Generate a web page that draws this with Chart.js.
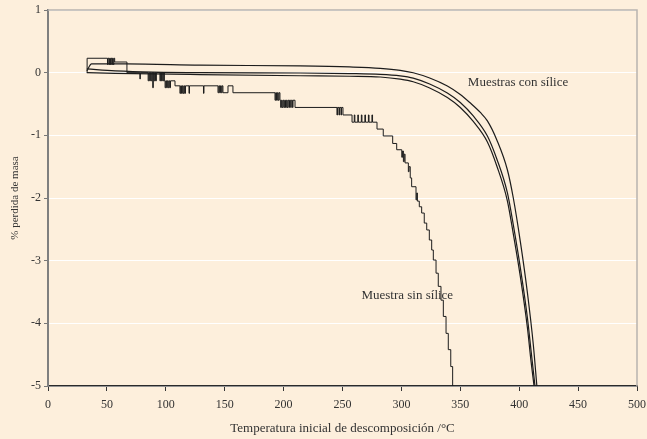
<!DOCTYPE html>
<html>
<head>
<meta charset="utf-8">
<script src="https://cdn.jsdelivr.net/npm/chart.js@4"></script>
<style>
  html, body { margin: 0; padding: 0; background: #fdefdc; }
  #wrap { width: 647px; height: 439px; }
</style>
</head>
<body>
<div id="wrap"><canvas id="tgaChart" width="647" height="439"></canvas></div>
<script>
const BG = '#fdefdc';
const TEXT = '#333333';
const FONT = '"Liberation Serif", "DejaVu Serif", serif';

// x ticks / y ticks
const tempTicks = [0, 50, 100, 150, 200, 250, 300, 350, 400, 450, 500];
const masaTicks = [1, 0, -1, -2, -3, -4, -5];

// Muestra sin sílice (stepped trace)
const sinSiliceTemp = [
  33, 33.2, 50.5, 51, 51.8, 52.3, 53, 53.5, 54.2, 54.7, 55.4, 56, 56.6, 67,
  78, 78.4, 85, 85.6, 86.3, 86.9, 87.6, 88.2, 88.9, 89.4, 90, 90.6, 91.3, 92,
  95, 95.6, 96.3, 96.9, 97.5, 98.2, 98.8, 99.4, 100, 100.7, 101.3, 102, 102.6, 103.3, 104,
  107.8, 112, 112.6, 113.3, 114, 114.6, 115.3, 116, 116.7, 119.7, 120.1, 132, 132.4,
  144.3, 145, 145.7, 146.4, 147.1, 147.8, 148.5, 152.8, 157,
  192.7, 193.3, 194, 194.7, 195.4, 196.1, 196.9,
  197.5, 198.1, 198.8, 199.5, 200.2, 200.9, 201.6, 202.3, 203, 203.7,
  204.5, 205, 206, 206.5, 207.5, 208, 209.7,
  245.3, 245.8, 247, 247.5, 248.7, 249.2, 250.4, 258.1,
  260, 260.5, 263, 263.5, 266, 266.5, 269, 269.5, 272, 272.5, 275, 275.5,
  279.3, 284.6, 292.6, 296, 300.3, 301, 301.7, 302.4, 303.1, 305.9, 306.5, 307.5,
  308.7, 312.4, 313, 313.6, 315.2, 317.2, 319.4, 321.5, 323.7, 325.7, 327.1,
  329.4, 331.3, 333.6, 335.6, 337.9, 339.8, 341.9, 343.5, 344
];
const sinSiliceMasa = [
  0, 0.23, 0.13, 0.23, 0.13, 0.23, 0.13, 0.23, 0.13, 0.23, 0.13, 0.23, 0.17, 0,
  -0.1, 0, -0.13, 0, -0.13, 0, -0.13, 0, -0.24, 0, -0.13, 0, -0.13, 0,
  -0.13, 0, -0.13, 0, -0.13, 0, -0.13, -0.24, -0.13, -0.24, -0.13, -0.24, -0.13, -0.24, -0.13,
  -0.21, -0.33, -0.21, -0.33, -0.21, -0.33, -0.21, -0.33, -0.21, -0.33, -0.21, -0.33, -0.21,
  -0.32, -0.21, -0.32, -0.21, -0.32, -0.21, -0.32, -0.21, -0.32,
  -0.44, -0.32, -0.44, -0.32, -0.44, -0.32, -0.44,
  -0.555, -0.44, -0.555, -0.44, -0.555, -0.44, -0.555, -0.44, -0.555, -0.44,
  -0.555, -0.44, -0.555, -0.44, -0.555, -0.44, -0.555,
  -0.675, -0.555, -0.675, -0.555, -0.675, -0.555, -0.675, -0.79,
  -0.675, -0.79, -0.675, -0.79, -0.675, -0.79, -0.675, -0.79, -0.675, -0.79, -0.675, -0.79,
  -0.90, -1.01, -1.13, -1.23, -1.35, -1.25, -1.42, -1.30, -1.44, -1.58, -1.50, -1.68,
  -1.82, -2.03, -1.92, -2.05, -2.14, -2.24, -2.40, -2.51, -2.67, -2.83, -2.99,
  -3.20, -3.41, -3.63, -3.89, -4.16, -4.42, -4.69, -5.0, -5.3
];

// Muestras con sílice (three traces)
const conSiliceATemp = [33, 37, 67, 129, 214, 256, 282, 299, 310, 324, 339, 350, 358, 367, 373, 381, 390, 395, 401, 407, 412, 415];
const conSiliceAMasa = [0.03, 0.14, 0.14, 0.12, 0.107, 0.091, 0.07, 0.038, -0.002, -0.085, -0.213, -0.348, -0.476, -0.635, -0.77, -1.074, -1.553, -2.0, -2.70, -3.516, -4.345, -5.0];
const conSiliceBTemp = [33, 57, 129, 214, 256, 282, 299, 310, 324, 339, 350, 361, 373, 381, 390, 395, 401, 407, 410, 413.4];
const conSiliceBMasa = [0.06, 0.03, 0.0, -0.005, -0.014, -0.026, -0.05, -0.086, -0.18, -0.324, -0.475, -0.69, -1.01, -1.377, -1.92, -2.43, -3.12, -3.915, -4.425, -5.0];
const conSiliceCTemp = [33, 57, 129, 214, 256, 282, 299, 310, 324, 339, 350, 361, 373, 381, 390, 395, 401, 407, 410, 412.6];
const conSiliceCMasa = [0.0, -0.01, -0.03, -0.049, -0.057, -0.069, -0.104, -0.145, -0.244, -0.396, -0.555, -0.779, -1.106, -1.489, -2.048, -2.574, -3.26, -4.074, -4.6, -5.0];

const labelTexts = ['Muestras con sílice', 'Muestra sin sílice'];
const labelTemp = [399, 305];
const labelMasa = [-0.165, -3.56];

function pts(xs, ys) {
  return xs.map((x, i) => ({ x: x, y: ys[i] }));
}

const bgPlugin = {
  id: 'bg',
  beforeDraw(chart) {
    const c = chart.ctx;
    c.save();
    c.fillStyle = BG;
    c.fillRect(0, 0, chart.width, chart.height);
    c.restore();
  },
  afterDraw(chart) {
    // top and right frame of the plot area
    const a = chart.chartArea;
    const c = chart.ctx;
    c.save();
    c.strokeStyle = '#b8b4ae';
    c.lineWidth = 1.5;
    c.beginPath();
    c.moveTo(a.left, a.top);
    c.lineTo(a.right, a.top);
    c.lineTo(a.right, a.bottom);
    c.stroke();
    // curve labels
    c.font = '13px ' + FONT;
    c.fillStyle = TEXT;
    c.textAlign = 'center';
    c.textBaseline = 'middle';
    labelTexts.forEach((t, i) => {
      c.fillText(t, chart.scales.x.getPixelForValue(labelTemp[i]), chart.scales.y.getPixelForValue(labelMasa[i]));
    });
    c.restore();
  }
};

const lineBase = {
  borderColor: '#1c1c1c',
  borderWidth: 1.2,
  pointRadius: 0,
  fill: false,
};

const ctx = document.getElementById('tgaChart').getContext('2d');
new Chart(ctx, {
  type: 'line',
  data: {
    datasets: [
      Object.assign({ label: 'Muestra sin sílice', data: pts(sinSiliceTemp, sinSiliceMasa), stepped: true }, lineBase, { borderWidth: 1 }),
      Object.assign({ label: 'Con sílice A', data: pts(conSiliceATemp, conSiliceAMasa), cubicInterpolationMode: 'monotone' }, lineBase),
      Object.assign({ label: 'Con sílice B', data: pts(conSiliceBTemp, conSiliceBMasa), cubicInterpolationMode: 'monotone' }, lineBase),
      Object.assign({ label: 'Con sílice C', data: pts(conSiliceCTemp, conSiliceCMasa), cubicInterpolationMode: 'monotone' }, lineBase),
    ]
  },
  options: {
    responsive: false,
    animation: false,
    layout: { padding: { top: 10, right: 10, left: 0, bottom: 0 } },
    plugins: { legend: { display: false }, tooltip: { enabled: false } },
    scales: {
      x: {
        type: 'linear',
        min: 0,
        max: 500,
        afterBuildTicks: s => { s.ticks = tempTicks.map(v => ({ value: v })); },
        afterFit: s => { s.height = 53; s.paddingLeft = 0; s.paddingRight = 0; },
        ticks: { color: TEXT, font: { family: FONT, size: 12 }, padding: 7, maxRotation: 0 },
        grid: { drawOnChartArea: false, drawTicks: true, tickLength: 5, tickColor: '#333', tickWidth: 1 },
        border: { color: '#2a2a2a', width: 1.5 },
        title: { display: true, text: 'Temperatura inicial de descomposición /°C', color: TEXT, font: { family: FONT, size: 13 }, padding: { top: 0, bottom: 3 } }
      },
      y: {
        min: -5,
        max: 1,
        afterBuildTicks: s => { s.ticks = masaTicks.map(v => ({ value: v })); },
        afterFit: s => { s.width = 48; s.paddingTop = 0; s.paddingBottom = 0; },
        ticks: { color: TEXT, font: { family: FONT, size: 12 }, padding: 3 },
        grid: { color: '#ffffff', lineWidth: 1, drawTicks: true, tickLength: 4, tickColor: '#777' },
        border: { color: '#7f7f7f', width: 2 },
        title: { display: true, text: '% perdida de masa', color: TEXT, font: { family: FONT, size: 11 }, padding: { top: 9, bottom: 0 } }
      }
    }
  },
  plugins: [bgPlugin]
});
</script>
</body>
</html>
